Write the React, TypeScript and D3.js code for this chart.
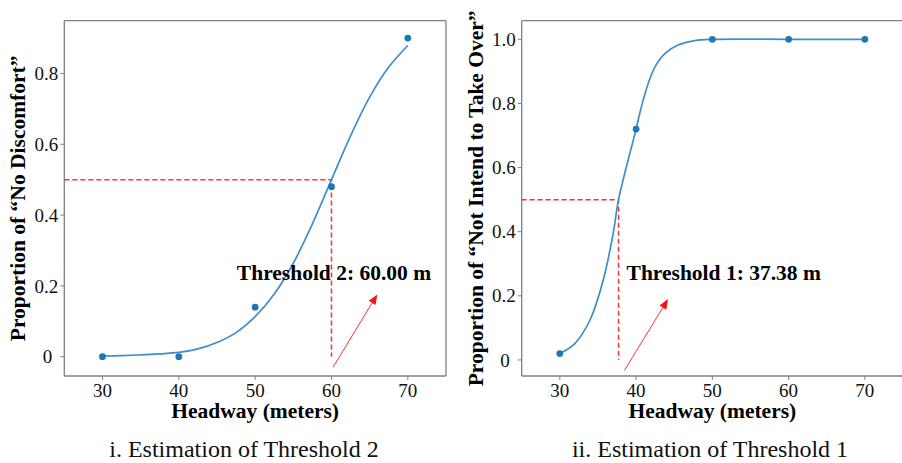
import React from "react";
import * as d3 from "d3";

// ---------- data ----------
const headway = [30, 40, 50, 60, 70];
const noDiscomfort = [0, 0, 0.14, 0.48, 0.9];
const notTakeOver = [0.02, 0.72, 1.0, 1.0, 1.0];

// fitted curves
const fit2X = [30, 32.5, 35, 37.5, 40, 42.5, 45, 47.5, 50, 52.5, 55, 57.5, 60, 62.5, 65, 67.5, 70];
const fit2Y = [0.002, 0.003, 0.005, 0.008, 0.012, 0.022, 0.04, 0.068, 0.113, 0.177, 0.264, 0.375, 0.5, 0.624, 0.733, 0.818, 0.879];
const fit1X = [30, 32, 34, 35.7, 37, 37.7, 40, 40.7, 41.6, 42.5, 43.8, 45.5, 47.7, 50, 60, 70];
const fit1Y = [0.02, 0.052, 0.127, 0.25, 0.395, 0.5, 0.72, 0.79, 0.863, 0.915, 0.956, 0.982, 0.996, 1.0, 1.0, 1.0];

const xTicks = [30, 40, 50, 60, 70];
const yTicks2 = [0, 0.2, 0.4, 0.6, 0.8];
const yTickLabels2 = ["0", "0.2", "0.4", "0.6", "0.8"];
const yTicks1 = [0, 0.2, 0.4, 0.6, 0.8, 1.0];
const yTickLabels1 = ["0", "0.2", "0.4", "0.6", "0.8", "1.0"];

const thresholdLineX = [60, 37.7];
const thresholdLabels = ["Threshold 2: 60.00 m", "Threshold 1: 37.38 m"];
const labelPos = [[47.6, 0.217], [38.75, 0.25]];
const arrowFrom = [[60.2, -0.03], [38.45, -0.033]];
const arrowTo = [[66.0, 0.176], [44.2, 0.19]];
const yLabels = ["Proportion of \u201CNo Discomfort\u201D", "Proportion of \u201CNot Intend to Take Over\u201D"];
const captions = ["i. Estimation of Threshold 2", "ii. Estimation of Threshold 1"];
const xLabel = "Headway (meters)";

const SERIF = "'Liberation Serif', 'Times New Roman', serif";

type PanelProps = {
  idx: number;
  left: number;
  right: number;
  yDomain: [number, number];
  values: number[];
  fitX: number[];
  fitY: number[];
  yTicks: number[];
  yTickLabels: string[];
  yLabelX: number;
  captionX: number;
  drawRight: boolean;
};

function Panel(p: PanelProps) {
  const top = 20.7;
  const bottom = 376;
  const x = d3.scaleLinear().domain([25, 75]).range([p.left, p.right]);
  const y = d3.scaleLinear().domain(p.yDomain).range([bottom, top]);
  const fitPts = p.fitX.map((v, i) => [v, p.fitY[i]] as [number, number]);
  const line = d3
    .line<[number, number]>()
    .x((d) => x(d[0]))
    .y((d) => y(d[1]))
    .curve(d3.curveCatmullRom.alpha(0.5));
  const tx = thresholdLineX[p.idx];
  const [lx, ly] = labelPos[p.idx];
  const [ax0, ay0] = arrowFrom[p.idx];
  const [ax1, ay1] = arrowTo[p.idx];
  const X0 = x(ax0), Y0 = y(ay0), X1 = x(ax1), Y1 = y(ay1);
  const ang = Math.atan2(Y1 - Y0, X1 - X0);
  const hl = 10, hw = 4;
  const bx = X1 - hl * Math.cos(ang), by = Y1 - hl * Math.sin(ang);
  const head = [
    [X1, Y1],
    [bx + hw * Math.sin(ang), by - hw * Math.cos(ang)],
    [bx - hw * Math.sin(ang), by + hw * Math.cos(ang)],
  ];
  const cx = (p.left + p.right) / 2;
  const frame = "#808080";
  return (
    <g>
      {/* frame */}
      <line x1={p.left} x2={p.right} y1={top} y2={top} stroke={frame} strokeWidth={1.3} />
      <line x1={p.left} x2={p.right} y1={bottom} y2={bottom} stroke={frame} strokeWidth={1.3} />
      <line x1={p.left} x2={p.left} y1={top} y2={bottom} stroke={frame} strokeWidth={1.3} />
      {p.drawRight && <line x1={p.right} x2={p.right} y1={top} y2={bottom} stroke={frame} strokeWidth={1.3} />}
      {/* x ticks */}
      {xTicks.map((t) => (
        <g key={"xt" + t}>
          <line x1={x(t)} x2={x(t)} y1={bottom} y2={bottom + 4} stroke={frame} strokeWidth={1} />
          <text x={x(t)} y={397} textAnchor="middle" fontFamily={SERIF} fontSize={19} fill="#111">
            {t}
          </text>
        </g>
      ))}
      {/* y ticks */}
      {p.yTicks.map((t, i) => (
        <g key={"yt" + t}>
          <line x1={p.left - 4} x2={p.left} y1={y(t)} y2={y(t)} stroke={frame} strokeWidth={1} />
          <text
            x={p.left - (p.yTickLabels[i] === "0" ? 12 : 6)}
            y={y(t)}
            dy="0.35em"
            textAnchor="end"
            fontFamily={SERIF}
            fontSize={19}
            fill="#111"
          >
            {p.yTickLabels[i]}
          </text>
        </g>
      ))}
      {/* threshold dashed lines */}
      <path
        d={`M${p.left},${y(0.5)}H${x(tx)}V${y(0)}`}
        fill="none"
        stroke="#ff3030"
        strokeWidth={1.5}
        strokeDasharray="5,3"
      />
      {/* fit curve */}
      <path d={line(fitPts) || ""} fill="none" stroke="#3d8ecb" strokeWidth={1.7} />
      {/* points */}
      {headway.map((h, i) => (
        <circle key={"pt" + h} cx={x(h)} cy={y(p.values[i])} r={3.4} fill="#1f77b4" />
      ))}
      {/* label */}
      <text x={x(lx)} y={y(ly)} fontFamily={SERIF} fontWeight="bold" fontSize={21.5} fill="#000">
        {thresholdLabels[p.idx]}
      </text>
      {/* arrow */}
      <line x1={X0} y1={Y0} x2={bx} y2={by} stroke="#ff3030" strokeWidth={1} />
      <polygon points={head.map((q) => q.join(",")).join(" ")} fill="#ff1010" />
      {/* axis labels */}
      <text x={cx} y={417.5} textAnchor="middle" fontFamily={SERIF} fontWeight="bold" fontSize={21.5} fill="#000">
        {xLabel}
      </text>
      <text
        transform={`translate(${p.yLabelX},${(top + bottom) / 2}) rotate(-90)`}
        textAnchor="middle"
        fontFamily={SERIF}
        fontWeight="bold"
        fontSize={21.5}
        fill="#000"
      >
        {yLabels[p.idx]}
      </text>
      <text x={p.captionX} y={457} textAnchor="middle" fontFamily={SERIF} fontSize={24} fill="#111">
        {captions[p.idx]}
      </text>
    </g>
  );
}

export default function App() {
  return (
    <svg
      width={902}
      height={463}
      style={{ position: "absolute", left: 0, top: 0, background: "#fff" }}
    >
      <rect x={0} y={0} width={902} height={463} fill="#fff" />
      <Panel
        idx={0}
        left={64.3}
        right={446}
        yDomain={[-0.0545, 0.949]}
        values={noDiscomfort}
        fitX={fit2X}
        fitY={fit2Y}
        yTicks={yTicks2}
        yTickLabels={yTickLabels2}
        yLabelX={25}
        captionX={244}
        drawRight={true}
      />
      <Panel
        idx={1}
        left={521.7}
        right={903}
        yDomain={[-0.05, 1.058]}
        values={notTakeOver}
        fitX={fit1X}
        fitY={fit1Y}
        yTicks={yTicks1}
        yTickLabels={yTickLabels1}
        yLabelX={483}
        captionX={710}
        drawRight={false}
      />
    </svg>
  );
}
